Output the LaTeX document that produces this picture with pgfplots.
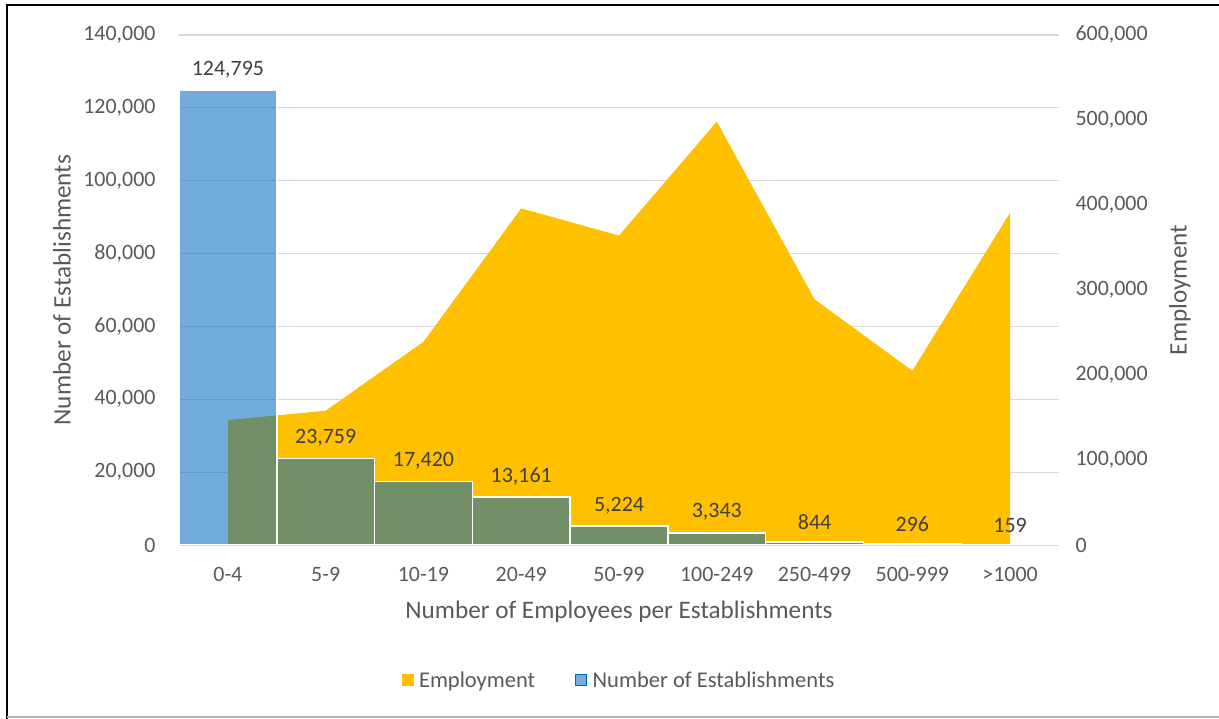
\documentclass[border=0pt]{standalone}
\usepackage{pgfplots}
\pgfplotsset{compat=1.18}
\usepackage{fontspec}
\setmainfont{Carlito}
\definecolor{txt}{RGB}{89,89,89}
\definecolor{lbl}{RGB}{64,64,64}
\definecolor{grd}{RGB}{217,217,217}
\definecolor{emp}{RGB}{255,192,0}
\definecolor{est}{RGB}{0,104,191}
\newcommand{\fs}{\fontsize{22}{26}\selectfont}
\newcommand{\fl}{\fontsize{22.6}{26}\selectfont}
\newcommand{\ft}{\fontsize{25.3}{29}\selectfont}
\pgfplotsset{
  base/.style={
    scale only axis, width=880bp, height=510bp,
    at={(179bp,174bp)}, anchor=south west,
    xmin=-0.5, xmax=8.5,
    major tick length=0pt,
    axis line style={draw=none},
    /pgf/number format/fixed,
    /pgf/number format/precision=0,
    /pgf/number format/1000 sep={,},
    /pgf/number format/assume math mode=true,
  },
}
\begin{document}
\begin{tikzpicture}[x=1bp,y=1bp]
\path[use as bounding box] (0,0) rectangle (1219,719);
\draw[black, line width=2bp] (7,0) -- (7,714) -- (1219,714);
\draw[gray!60, line width=1.2bp] (7,2) -- (1219,2);

% Axis A: left axis with grid and labels
\begin{axis}[base,
  ymin=0, ymax=140000,
  ytick={0,20000,...,140000},
  ymajorgrids, grid style={grd, line width=1.2bp},
  xtick={0,...,8},
  xticklabels={0-4,5-9,10-19,20-49,50-99,100-249,250-499,500-999,>1000},
  xticklabel style={font=\fs, text=txt, yshift=-19bp},
  yticklabel style={font=\fs, text=txt, xshift=-20bp},
  scaled y ticks=false,
  xlabel={Number of Employees per Establishments},
  xlabel style={font=\ft, text=txt, at={(axis description cs:0.5,-0.131)}, anchor=center},
  ylabel={Number of Establishments},
  ylabel style={font=\ft, text=txt, at={(axis description cs:-0.133,0.5)}, anchor=center, rotate=0},
]
\addplot[draw=none] coordinates {(0,0)};
\end{axis}

% Axis B: right axis with employment area
\begin{axis}[base,
  ymin=0, ymax=600000,
  ytick={0,100000,...,600000},
  axis y line*=right, axis x line=none,
  scaled y ticks=false,
  yticklabel style={font=\fs, text=txt, xshift=13bp},
  ylabel={Employment},
  ylabel style={font=\ft, text=txt, at={(axis description cs:1.1375,0.5)}, anchor=center},
]
\addplot[fill=emp, draw=none] coordinates {
  (0,147000) (1,158000) (2,239000) (3,396000) (4,364000)
  (5,498000) (6,289000) (7,205000) (8,391000)
} \closedcycle;
\end{axis}

% Axis C: bars for number of establishments
\begin{axis}[base,
  ymin=0, ymax=140000,
  axis x line=none, axis y line=none,
  legend columns=-1,
  legend style={draw=none, fill=none, font=\fl, text=txt,
    at={(axis description cs:0.5,-0.265)}, anchor=center,
    /tikz/every odd column/.append style={column sep=4bp},
    /tikz/every even column/.append style={column sep=38bp}},
]
\addlegendimage{legend image code/.code={\fill[emp] (0bp,-5.5bp) rectangle (11bp,5.5bp);}}
\addlegendentry{Employment}
\addlegendimage{legend image code/.code={\fill[est, fill opacity=0.55] (0bp,-5.5bp) rectangle (11bp,5.5bp);}}
\addlegendentry{Number of Establishments}
\addplot[ybar, bar width=97.78bp, bar shift=0pt,
  fill=est, fill opacity=0.55, draw=white, line width=1.5bp,
  nodes near coords,
  every node near coord/.append style={font=\fs, text=lbl, text opacity=1, anchor=south, yshift=8bp},
  forget plot] coordinates {
  (0,124795) (1,23759) (2,17420) (3,13161) (4,5224)
  (5,3343) (6,844) (7,296) (8,159)
};
\end{axis}
\end{tikzpicture}
\end{document}
